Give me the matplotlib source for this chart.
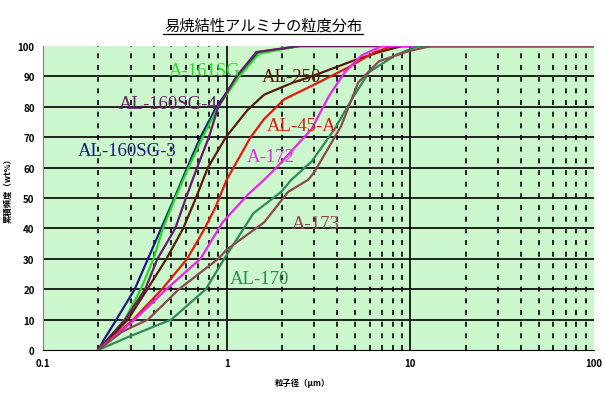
import matplotlib
matplotlib.use("Agg")
import matplotlib.pyplot as plt
from matplotlib.lines import Line2D

plt.rcParams['font.family'] = ['Noto Sans CJK JP', 'DejaVu Sans']

# particle size (um) vs cumulative (wt%)
al160sg3_x = [0.2, 0.216, 0.251, 0.316, 0.373, 0.44, 0.52, 0.61, 0.72, 0.88, 1.15, 1.5, 2.5, 100]
al160sg3_y = [0, 3.6, 10, 20, 30, 40, 50, 60, 70, 80, 90, 98, 100, 100]

a161sg_x = [0.2, 0.279, 0.341, 0.40, 0.45, 0.525, 0.62, 0.74, 0.90, 1.17, 1.5, 2.5, 100]
a161sg_y = [0, 10, 20, 30, 40, 50, 60, 70, 80, 90, 97.5, 100, 100]

al160sg4_x = [0.2, 0.28, 0.36, 0.42, 0.525, 0.60, 0.69, 0.80, 0.90, 1.13, 1.45, 2.5, 100]
al160sg4_y = [0, 10, 20, 30, 40, 50, 60, 70, 80, 90, 98, 100, 100]

al250_x = [0.2, 0.29, 0.37, 0.47, 0.58, 0.68, 0.79, 0.99, 1.3, 1.6, 2.3, 2.9, 4.8, 6.75, 9, 100]
al250_y = [0, 10, 20, 30, 40, 50, 60, 70, 79, 84, 88, 90, 95, 98, 100, 100]

al45a_x = [0.2, 0.31, 0.445, 0.61, 0.76, 0.87, 1.0, 1.35, 1.6, 2.06, 3.16, 4.6, 6.4, 8, 100]
al45a_y = [0, 10, 20, 30, 40, 47, 56, 70, 76, 82.5, 88, 93, 98, 100, 100]

a172_x = [0.2, 0.316, 0.47, 0.72, 0.95, 1.3, 1.6, 1.9, 2.9, 3.6, 4.4, 5.45, 7, 100]
a172_y = [0, 10, 20, 30, 42, 51, 56, 60.5, 72.7, 83.5, 91.4, 97, 100, 100]

al170_x = [0.2, 0.30, 0.50, 0.77, 0.97, 1.4, 1.98, 2.25, 2.9, 3.87, 4.8, 5.95, 8.3, 11, 100]
al170_y = [0, 4.6, 10, 20, 30, 45, 52, 56, 62, 72.7, 82.5, 91.4, 97, 100, 100]

a173_x = [0.2, 0.27, 0.373, 0.55, 0.9, 1.0, 1.6, 2.16, 2.78, 3.0, 4.2, 5.2, 6.75, 9.9, 13, 100]
a173_y = [0, 6, 10, 20, 30, 33, 42, 52, 56, 58.5, 73.7, 88, 95, 98.4, 100, 100]

names = ["AL-160SG-3", "A-161SG", "AL-160SG-4", "AL-250", "AL-45-A", "A-172", "AL-170", "A-173"]
colors = ["#1a1a80", "#22dd22", "#6a1a6a", "#5a1a0a", "#e01a10", "#ee22ee", "#2e8b57", "#8a4a50"]
series = [(al160sg3_x, al160sg3_y), (a161sg_x, a161sg_y), (al160sg4_x, al160sg4_y),
          (al250_x, al250_y), (al45a_x, al45a_y), (a172_x, a172_y),
          (al170_x, al170_y), (a173_x, a173_y)]
label_pos = [(0.286, 65.5), (0.76, 92), (0.48, 81), (2.25, 90), (2.55, 74), (1.74, 63.5), (1.5, 23.4), (3.04, 41.5)]

fig = plt.figure(figsize=(6.05, 4.02), dpi=100)
ax = fig.add_axes([0.071, 0.127, 0.911, 0.756])
ax.set_facecolor("#ccf7cc")
ax.set_xscale("log")
ax.set_xlim(0.1, 100)
ax.set_ylim(0, 100)

for d in [0.1, 1, 10]:
    for k in range(2, 10):
        ax.axvline(d * k, color="black", lw=1.2, ls=(0, (3, 4)), zorder=1)
for d in [1, 10]:
    ax.axvline(d, color="black", lw=1.2, zorder=1)
for yv in range(10, 100, 10):
    ax.axhline(yv, color="black", lw=1.2, zorder=1)

for (xs, ys), c in zip(series, colors):
    ax.plot(xs, ys, color=c, lw=1.6, zorder=3)

for n, c, (lx, ly) in zip(names, colors, label_pos):
    ax.text(lx, ly, n, color=c, fontsize=13.5, ha="center", va="center",
            family="Liberation Serif", zorder=4)

ax.set_xticks([0.1, 1, 10, 100])
ax.set_xticklabels(["0.1", "1", "10", "100"])
ax.minorticks_off()
ax.set_yticks(range(0, 101, 10))
ax.tick_params(length=0, labelsize=7, pad=6)
for t in ax.get_xticklabels() + ax.get_yticklabels():
    t.set_fontweight("bold")
for s in ["top", "right"]:
    ax.spines[s].set_visible(False)
ax.spines["left"].set_color("#808080")
ax.spines["bottom"].set_color("black")

fig.text(0.435, 0.935, "易焼結性アルミナの粒度分布", ha="center", va="center", fontsize=11)
fig.add_artist(Line2D([0.27, 0.60], [0.912, 0.912], color="black", lw=0.9))
fig.text(0.013, 0.53, "累積頻度（wt%）", rotation=90, ha="center", va="center",
         fontsize=6, fontweight="bold")
fig.text(0.50, 0.047, "粒子径（μm）", ha="center", va="center", fontsize=6, fontweight="bold")

fig.savefig("out.png", dpi=100)
